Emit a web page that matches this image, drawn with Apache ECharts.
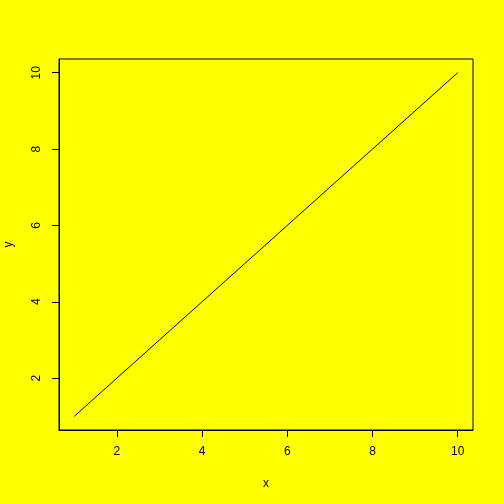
<!DOCTYPE html>
<html><head><meta charset="utf-8">
<script src="https://cdn.jsdelivr.net/npm/echarts@6/dist/echarts.min.js"></script>
<style>html,body{margin:0;padding:0;background:#ffff00;}#c{width:504px;height:504px;}</style>
</head><body><div id="c"></div>
<script>
const xValues = [1,2,3,4,5,6,7,8,9,10];
const yValues = [1,2,3,4,5,6,7,8,9,10];
const xTicks = [2,4,6,8,10];
const yTicks = [2,4,6,8,10];
const xRange = [0.64, 10.36];
const yRange = [0.64, 10.36];

const chart = echarts.init(document.getElementById('c'), null, {renderer:'canvas'});
const font = 'Liberation Sans, Arial, sans-serif';
chart.setOption({
  backgroundColor: '#ffff00',
  animation: false,
  grid: {left:59, top:59, right:31, bottom:74, containLabel:false, outerBoundsMode:'none', show:true, borderColor:'#000', borderWidth:1, backgroundColor:'transparent'},
  xAxis: {
    type:'value', min:xRange[0], max:xRange[1],
    name:'x', nameLocation:'middle', nameGap:48,
    nameTextStyle:{color:'#000', fontSize:12, fontFamily:font},
    axisLine:{show:true, onZero:false, lineStyle:{color:'#000', width:1}},
    axisTick:{show:true, length:7, customValues:xTicks, lineStyle:{color:'#000'}},
    axisLabel:{customValues:xTicks, color:'#000', fontSize:12, fontFamily:font, margin:16},
    splitLine:{show:false}
  },
  yAxis: {
    type:'value', min:yRange[0], max:yRange[1],
    name:'y', nameLocation:'middle', nameGap:44, nameRotate:90,
    nameTextStyle:{color:'#000', fontSize:12, fontFamily:font},
    axisLine:{show:true, onZero:false, lineStyle:{color:'#000', width:1}},
    axisTick:{show:true, length:7, customValues:yTicks, lineStyle:{color:'#000'}},
    axisLabel:{customValues:yTicks, color:'#000', fontSize:12, fontFamily:font, margin:16, rotate:90},
    splitLine:{show:false}
  },
  series: [{
    type:'line', data: xValues.map((x,i)=>[x, yValues[i]]),
    showSymbol:false, symbol:'none',
    lineStyle:{color:'#000', width:1}
  }]
});
</script></body></html>
